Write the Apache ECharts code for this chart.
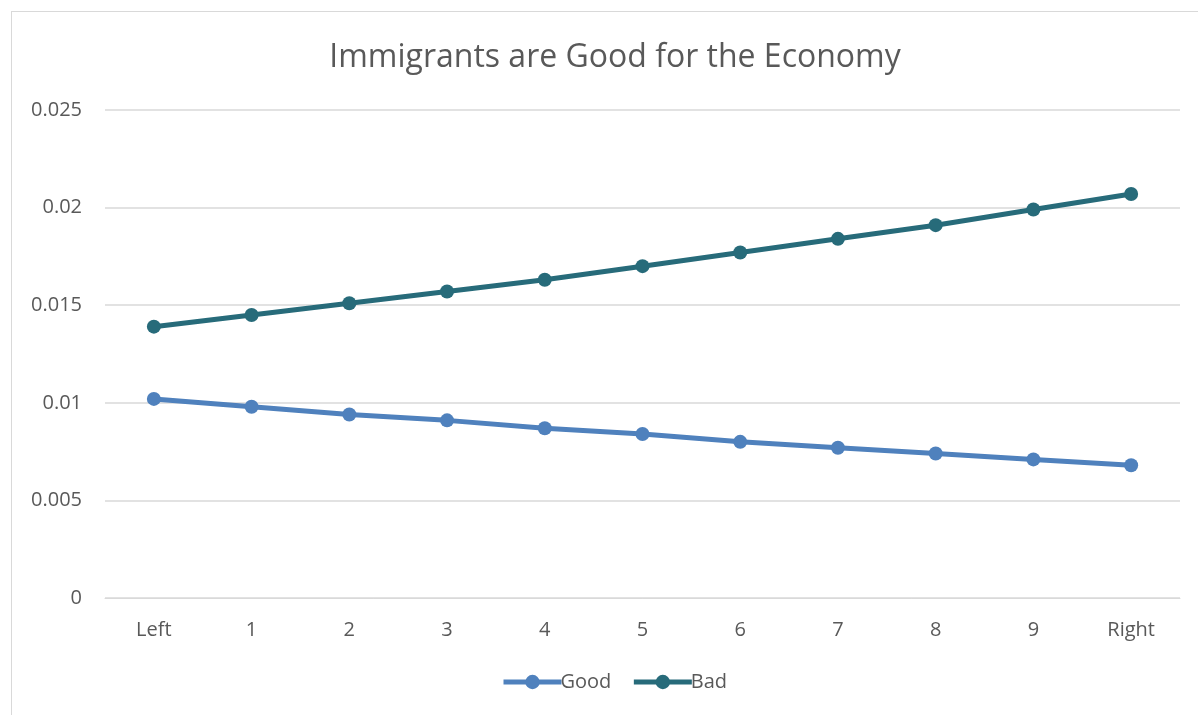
<!DOCTYPE html>
<html>
<head>
<meta charset="utf-8">
<script src="https://cdn.jsdelivr.net/npm/echarts@6/dist/echarts.min.js"></script>
<style>
  html, body { margin: 0; padding: 0; background: #ffffff; }
  #frame { position: absolute; left: 11px; top: 11px; width: 1200px; height: 710px;
           border: 1px solid #d9d9d9; box-sizing: border-box; }
  #chart { position: absolute; left: 0; top: 0; width: 1198px; height: 715px; }
</style>
</head>
<body>
<div id="frame"></div>
<div id="chart"></div>
<script>
// Position on the left-right scale
const categories = ['Left', '1', '2', '3', '4', '5', '6', '7', '8', '9', 'Right'];
// Share saying immigrants are good / bad for the economy
const goodValues = [0.0102, 0.0098, 0.0094, 0.0091, 0.0087, 0.0084, 0.0080, 0.0077, 0.0074, 0.0071, 0.0068];
const badValues  = [0.0139, 0.0145, 0.0151, 0.0157, 0.0163, 0.0170, 0.0177, 0.0184, 0.0191, 0.0199, 0.0207];
const yTicks = [0, 0.005, 0.01, 0.015, 0.02, 0.025];

const textColor = '#595959';
const fontFamily = '"Open Sans", "Noto Sans", sans-serif';

const chart = echarts.init(document.getElementById('chart'), null, { renderer: 'canvas' });
chart.setOption({
  backgroundColor: 'transparent',
  animation: false,
  title: {
    text: 'Immigrants are Good for the Economy',
    left: 610,
    textAlign: 'center',
    top: 37,
    textStyle: { color: textColor, fontSize: 32, fontWeight: 'normal', fontFamily: fontFamily }
  },
  legend: {
    bottom: 18,
    left: 496,
    itemWidth: 58,
    itemHeight: 18,
    itemGap: 20,
    lineStyle: { width: 5 },
    textStyle: { color: textColor, fontSize: 20, fontFamily: fontFamily, padding: [0, 0, 0, -6] },
    data: ['Good', 'Bad']
  },
  grid: { left: 105, right: 18, top: 110, bottom: 117, containLabel: false },
  xAxis: {
    type: 'category',
    data: categories,
    boundaryGap: true,
    axisLine: { show: true, lineStyle: { color: '#d9d9d9', width: 1 } },
    axisTick: { show: false },
    axisLabel: { color: textColor, fontSize: 20, fontFamily: fontFamily, margin: 22 }
  },
  yAxis: {
    type: 'value',
    min: yTicks[0],
    max: yTicks[yTicks.length - 1],
    interval: 0.005,
    axisLine: { show: false },
    axisTick: { show: false },
    splitLine: { lineStyle: { color: '#d9d9d9', width: 1.5 } },
    axisLabel: {
      color: textColor, fontSize: 20, fontFamily: fontFamily, margin: 23,
      formatter: function (v) { return String(parseFloat(v.toFixed(3))); }
    }
  },
  series: [
    {
      name: 'Good',
      type: 'line',
      data: goodValues,
      symbol: 'circle',
      symbolSize: 14,
      lineStyle: { color: '#4f81bd', width: 5 },
      itemStyle: { color: '#4f81bd' }
    },
    {
      name: 'Bad',
      type: 'line',
      data: badValues,
      symbol: 'circle',
      symbolSize: 14,
      lineStyle: { color: '#276b7a', width: 5 },
      itemStyle: { color: '#276b7a' }
    }
  ]
});
</script>
</body>
</html>
